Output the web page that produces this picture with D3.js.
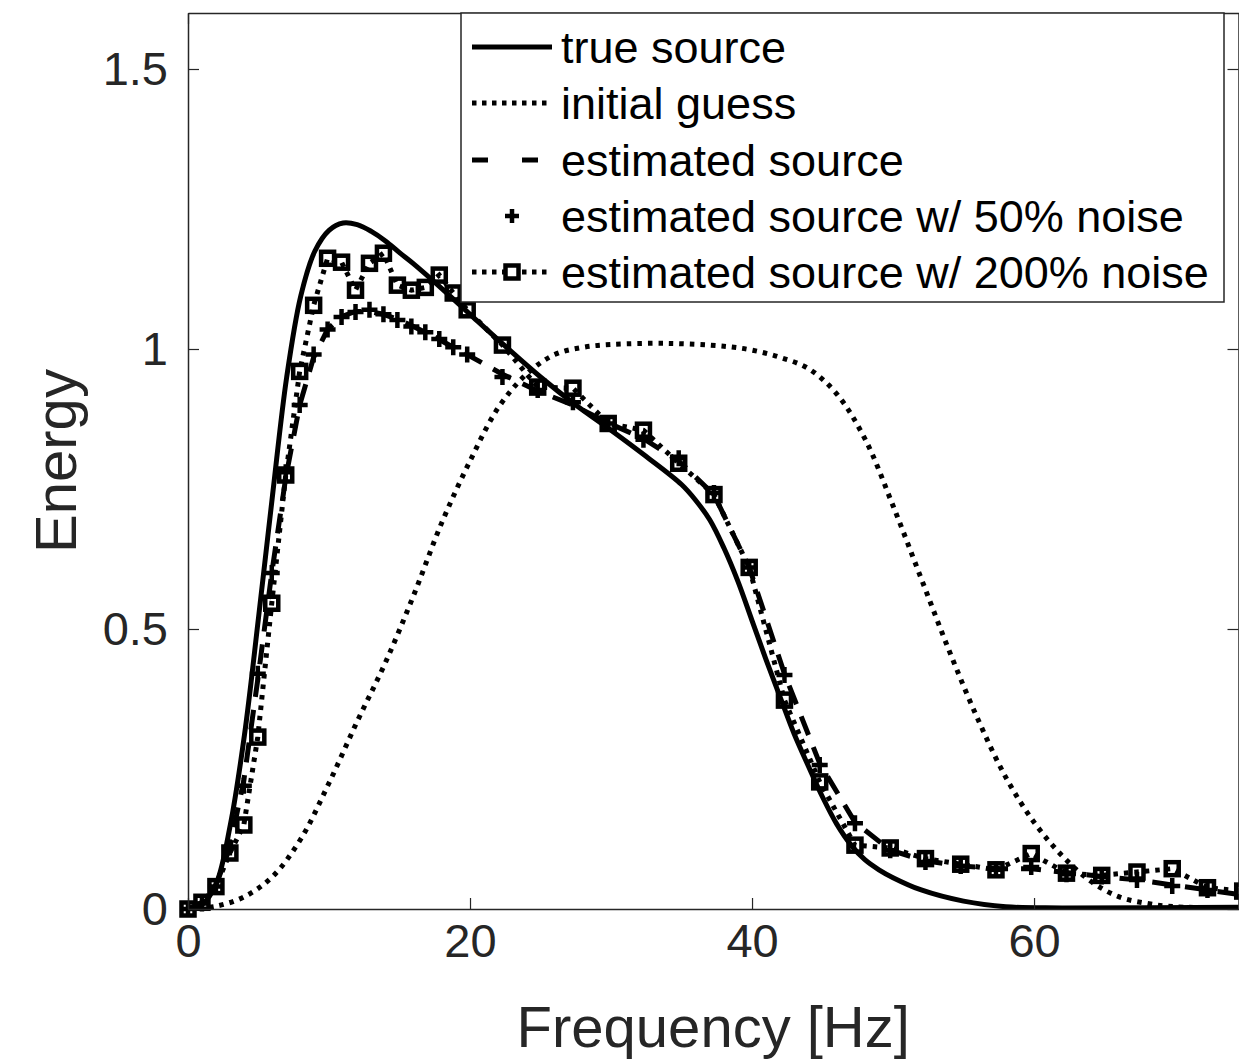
<!DOCTYPE html>
<html>
<head>
<meta charset="utf-8">
<script src="https://cdn.jsdelivr.net/npm/d3@7"></script>
<style>
	body { margin: 0; background: #fff; }
	svg { display: block; font-family: "Liberation Sans", Arial, Helvetica, sans-serif; }
</style>
</head>
<body>
<svg id="chart" width="1239" height="1064"></svg>
<script>
// true source
const trueFreq = [0,1,2,3,4,5,6,7,8,9,10,11,12,13,14,15,16,18,20,22.5,25,27.5,30,32.5,35,36,37,38,39,40,41,42,43,44,45,46,47,48,49,50,52,55,58,62,75]
const trueEnergy = [0,0.008,0.045,0.15,0.31,0.52,0.74,0.95,1.095,1.175,1.212,1.225,1.222,1.21,1.193,1.172,1.152,1.108,1.062,1.005,0.95,0.9,0.855,0.808,0.758,0.73,0.695,0.645,0.585,0.515,0.445,0.378,0.312,0.255,0.2,0.152,0.115,0.088,0.07,0.056,0.034,0.014,0.004,0.002,0.003]

// initial guess
const guessFreq = [0,2,4,6,8,10,12,14,16,18,20,22,24,26,28,30,34,38,40,42,44,46,48,50,52,54,56,58,60,62,64,66,68,70,75]
const guessEnergy = [0,0.005,0.022,0.058,0.125,0.225,0.335,0.44,0.56,0.69,0.8,0.895,0.955,0.99,1.003,1.008,1.01,1.005,0.998,0.985,0.965,0.92,0.84,0.72,0.59,0.46,0.34,0.235,0.155,0.095,0.05,0.022,0.01,0.004,0.002]

// frequencies of the estimated sources
const estFreq = [0,0.99,1.98,2.97,3.96,4.95,5.94,6.93,7.92,8.91,9.9,10.89,11.88,12.87,13.86,14.85,15.84,16.83,17.82,18.81,19.8,22.3,24.8,27.3,29.8,32.3,34.8,37.3,39.8,42.3,44.8,47.3,49.8,52.3,54.8,57.3,59.8,62.3,64.8,67.3,69.8,72.3,74.8]

// estimated source (no noise)
const estEnergy = [0,0.01,0.042,0.11,0.23,0.41,0.6,0.77,0.9,0.985,1.035,1.058,1.067,1.067,1.062,1.053,1.042,1.03,1.017,1.003,0.99,0.955,0.925,0.9,0.868,0.84,0.8,0.74,0.61,0.42,0.26,0.155,0.105,0.086,0.077,0.072,0.072,0.065,0.058,0.052,0.043,0.034,0.025]

// estimated source w/ 50% noise
const noise50Energy = [0,0.01,0.04,0.11,0.22,0.42,0.6,0.78,0.9,0.99,1.035,1.057,1.066,1.07,1.062,1.052,1.04,1.03,1.018,1.003,0.99,0.95,0.927,0.905,0.867,0.838,0.805,0.743,0.61,0.418,0.257,0.153,0.105,0.084,0.077,0.07,0.075,0.062,0.058,0.052,0.041,0.034,0.023]

// estimated source w/ 200% noise
const noise200Energy = [0,0.012,0.04,0.1,0.15,0.307,0.546,0.775,0.96,1.078,1.162,1.155,1.105,1.153,1.171,1.114,1.105,1.11,1.132,1.1,1.07,1.007,0.932,0.93,0.867,0.855,0.796,0.74,0.61,0.373,0.227,0.114,0.109,0.09,0.08,0.07,0.099,0.064,0.06,0.066,0.072,0.038,0.032]

const xTicks = [0, 20, 40, 60]
const yTicks = [0, 0.5, 1, 1.5]

const legendLabels = ["true source", "initial guess", "estimated source", "estimated source w/ 50% noise", "estimated source w/ 200% noise"]

const axisColor = "#262626"
const lineWidth = 5
const dottedDash = "4.5,6"
const dashedDash = "20,13"

function zip(xs, ys) {
	return xs.map((x, i) => ({ f: x, e: ys[i] }))
}

const svg = d3.select("#chart")

let plot = { left: 188, right: 1238.5, top: 13, bottom: 909 }

let xScale = d3.scaleLinear().domain([0, 74.5]).range([plot.left, plot.right])
let yScale = d3.scaleLinear().domain([0, 1.6]).range([plot.bottom, plot.top])

const smoothLine = d3.line().x(d => xScale(d.f)).y(d => yScale(d.e)).curve(d3.curveCatmullRom)
const straightLine = d3.line().x(d => xScale(d.f)).y(d => yScale(d.e))

svg.append("defs").append("clipPath").attr("id", "clip")
	.append("rect")
	.attr("x", plot.left).attr("y", plot.top)
	.attr("width", plot.right - plot.left).attr("height", plot.bottom - plot.top)

let lines = svg.append("g").attr("clip-path", "url(#clip)")

// initial guess
lines.append("path")
	.attr("d", smoothLine(zip(guessFreq, guessEnergy)))
	.attr("fill", "none")
	.attr("stroke", "#000")
	.attr("stroke-width", lineWidth)
	.attr("stroke-dasharray", dottedDash)

// true source
lines.append("path")
	.attr("d", smoothLine(zip(trueFreq, trueEnergy)))
	.attr("fill", "none")
	.attr("stroke", "#000")
	.attr("stroke-width", lineWidth)

// estimated source, dashed
lines.append("path")
	.attr("d", straightLine(zip(estFreq, estEnergy)))
	.attr("fill", "none")
	.attr("stroke", "#000")
	.attr("stroke-width", lineWidth)
	.attr("stroke-dasharray", dashedDash)

// 200% noise: dotted line + squares
lines.append("path")
	.attr("d", straightLine(zip(estFreq, noise200Energy)))
	.attr("fill", "none")
	.attr("stroke", "#000")
	.attr("stroke-width", lineWidth)
	.attr("stroke-dasharray", dottedDash)

let markers = svg.append("g")

markers.selectAll("rect.sq")
	.data(zip(estFreq, noise200Energy))
	.join("rect")
	.attr("class", "sq")
	.attr("x", d => xScale(d.f) - 6.5)
	.attr("y", d => yScale(d.e) - 6.5)
	.attr("width", 13)
	.attr("height", 13)
	.attr("fill", "none")
	.attr("stroke", "#000")
	.attr("stroke-width", 4.5)

// 50% noise: plus markers
markers.selectAll("path.plus")
	.data(zip(estFreq, noise50Energy))
	.join("path")
	.attr("class", "plus")
	.attr("transform", d => "translate(" + xScale(d.f) + "," + yScale(d.e) + ")")
	.attr("d", "M-8,0H8M0,-8V8")
	.attr("stroke", "#000")
	.attr("stroke-width", 4.5)

// axes (ticks point inwards, box on)
function styleAxis(g) {
	g.select(".domain").attr("stroke", axisColor).attr("stroke-width", 1.5)
	g.selectAll(".tick line").attr("stroke", axisColor).attr("stroke-width", 1.2)
	g.selectAll(".tick text").attr("fill", axisColor).attr("font-size", 47)
}

svg.append("g")
	.attr("transform", "translate(0," + plot.bottom + ")")
	.call(d3.axisBottom(xScale).tickValues(xTicks).tickSizeInner(-11).tickSizeOuter(0).tickPadding(15).tickFormat(d3.format("d")))
	.call(styleAxis)

svg.append("g")
	.attr("transform", "translate(0," + plot.top + ")")
	.call(d3.axisTop(xScale).tickValues(xTicks).tickSizeInner(-11).tickSizeOuter(0).tickFormat(""))
	.call(styleAxis)

svg.append("g")
	.attr("transform", "translate(" + plot.left + ",0)")
	.call(d3.axisLeft(yScale).tickValues(yTicks).tickSizeInner(-11).tickSizeOuter(0).tickPadding(20).tickFormat(d => d3.format("")(d)))
	.call(styleAxis)

svg.append("g")
	.attr("transform", "translate(" + plot.right + ",0)")
	.call(d3.axisRight(yScale).tickValues(yTicks).tickSizeInner(-11).tickSizeOuter(0).tickFormat(""))
	.call(styleAxis)

svg.selectAll(".domain").attr("fill", "none")

// axis labels
svg.append("text")
	.attr("x", (plot.left + plot.right) / 2)
	.attr("y", 1047)
	.attr("text-anchor", "middle")
	.attr("font-size", 58)
	.attr("fill", axisColor)
	.text("Frequency [Hz]")

svg.append("text")
	.attr("transform", "translate(76," + (plot.top + plot.bottom) / 2 + ") rotate(-90)")
	.attr("text-anchor", "middle")
	.attr("font-size", 58)
	.attr("fill", axisColor)
	.text("Energy")

// legend
let legend = svg.append("g")
let lx = 461, ly = plot.top, lw = 763, lh = 289
legend.append("rect")
	.attr("x", lx).attr("y", ly)
	.attr("width", lw).attr("height", lh)
	.attr("fill", "#fff")
	.attr("stroke", axisColor)
	.attr("stroke-width", 1.5)

const rowY = [47, 103, 160, 216, 272]
const sx0 = 472, sx1 = 552, smid = 512

legendLabels.forEach((label, i) => {
	let y = rowY[i]
	if (i === 0 || i === 1 || i === 2 || i === 4) {
		let s = legend.append("line")
			.attr("x1", sx0).attr("x2", sx1)
			.attr("y1", y).attr("y2", y)
			.attr("stroke", "#000")
			.attr("stroke-width", lineWidth)
		if (i === 1 || i === 4) s.attr("stroke-dasharray", "4.5,5.5")
		if (i === 2) s.attr("stroke-dasharray", "16,34")
	}
	if (i === 3) {
		legend.append("path")
			.attr("transform", "translate(" + smid + "," + y + ")")
			.attr("d", "M-7,0H7M0,-7V7")
			.attr("stroke", "#000")
			.attr("stroke-width", 4.5)
	}
	if (i === 4) {
		legend.append("rect")
			.attr("x", smid - 6.5).attr("y", y - 6.5)
			.attr("width", 13).attr("height", 13)
			.attr("fill", "#fff")
			.attr("stroke", "#000")
			.attr("stroke-width", 4.5)
	}
	legend.append("text")
		.attr("x", 561)
		.attr("y", y + 16)
		.attr("font-size", 45)
		.attr("fill", "#000")
		.text(label)
})
</script>
</body>
</html>
